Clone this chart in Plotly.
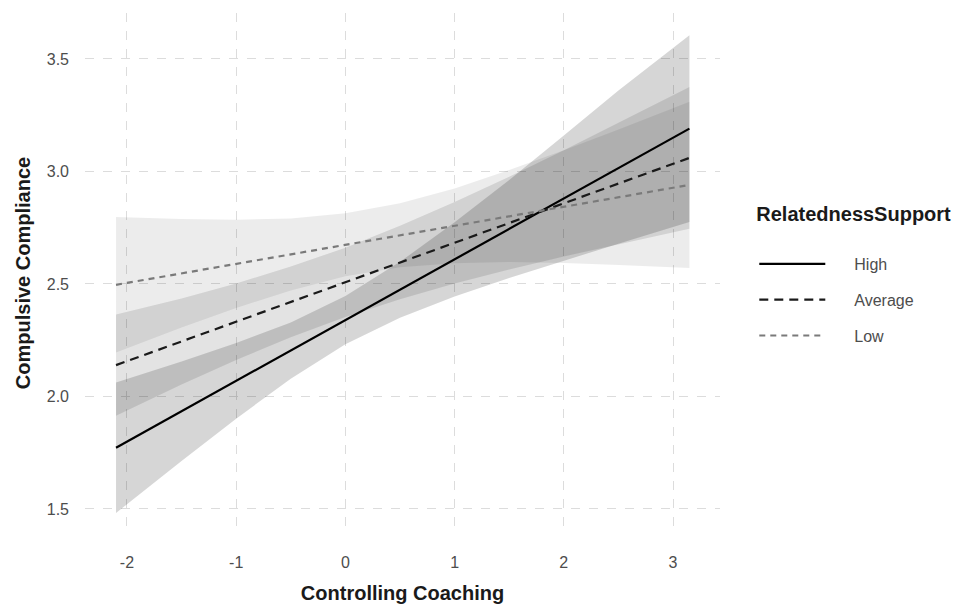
import plotly.graph_objects as go

# ---- data ----
x_grid = [-2.1, -1.5, -1.0, -0.5, 0.0, 0.5, 1.0, 1.5, 2.0, 2.5, 3.15]

high_fit = [1.772, 1.934, 2.069, 2.204, 2.339, 2.474, 2.609, 2.744, 2.879, 3.014, 3.190]
avg_fit = [2.139, 2.244, 2.332, 2.420, 2.507, 2.595, 2.683, 2.770, 2.858, 2.946, 3.060]
low_fit = [2.496, 2.547, 2.589, 2.631, 2.674, 2.716, 2.758, 2.801, 2.843, 2.885, 2.940]

high_lower = [1.482, 1.713, 1.901, 2.079, 2.232, 2.350, 2.444, 2.526, 2.604, 2.679, 2.775]
high_upper = [2.062, 2.155, 2.237, 2.329, 2.446, 2.598, 2.774, 2.962, 3.160, 3.360, 3.605]
avg_lower = [1.914, 2.053, 2.162, 2.263, 2.353, 2.432, 2.502, 2.564, 2.622, 2.677, 2.745]
avg_upper = [2.364, 2.435, 2.502, 2.577, 2.661, 2.758, 2.864, 2.976, 3.094, 3.215, 3.375]
low_lower = [2.195, 2.306, 2.393, 2.471, 2.534, 2.574, 2.592, 2.597, 2.593, 2.584, 2.571]
low_upper = [2.797, 2.788, 2.785, 2.791, 2.814, 2.858, 2.924, 3.006, 3.094, 3.186, 3.310]

groups = ["High", "Average", "Low"]
x_ticks = [-2, -1, 0, 1, 2, 3]
y_ticks = [1.5, 2.0, 2.5, 3.0, 3.5]
y_tick_text = ["1.5", "2.0", "2.5", "3.0", "3.5"]

# ---- styles ----
band_alpha = {"High": 0.16, "Average": 0.11, "Low": 0.075}
line_style = {
    "High": dict(color="#000000", width=2.2, dash="solid"),
    "Average": dict(color="#1a1a1a", width=2.2, dash="9px,6px"),
    "Low": dict(color="#7a7a7a", width=2.2, dash="6px,5px"),
}
fits = {"High": high_fit, "Average": avg_fit, "Low": low_fit}
bands = {"High": (high_lower, high_upper),
         "Average": (avg_lower, avg_upper),
         "Low": (low_lower, low_upper)}

LEGEND_PAD = "\u2002\u2002\u2002"  # visual gap between key line and label

fig = go.Figure()

for g in groups:
    lo, up = bands[g]
    fig.add_trace(go.Scatter(
        x=list(x_grid) + list(reversed(x_grid)),
        y=list(up) + list(reversed(lo)),
        fill="toself",
        fillcolor=f"rgba(0,0,0,{band_alpha[g]})",
        line=dict(width=0),
        mode="lines",
        hoverinfo="skip",
        showlegend=False,
    ))

for g in groups:
    fig.add_trace(go.Scatter(
        x=x_grid, y=fits[g], mode="lines", name=LEGEND_PAD + g,
        line=line_style[g], legendgroup=g,
    ))

font_family = "Liberation Sans, Arial, sans-serif"

fig.update_layout(
    width=969, height=604,
    margin=dict(l=85, r=249, t=13, b=71, autoexpand=False),
    paper_bgcolor="white", plot_bgcolor="white",
    font=dict(family=font_family, color="#4d4d4d"),
    showlegend=True,
    legend=dict(
        title=dict(text="<b>RelatednessSupport</b><br>\u00a0",
                   font=dict(size=20, color="#1a1a1a")),
        font=dict(size=16, color="#4d4d4d"),
        x=1.054, xanchor="left", y=0.65, yanchor="top",
        itemwidth=66, tracegroupgap=12,
        bgcolor="rgba(0,0,0,0)",
    ),
    xaxis=dict(
        range=[-2.384, 3.43],
        tickvals=x_ticks,
        ticktext=[str(v) for v in x_ticks],
        tickfont=dict(size=16, color="#4d4d4d"),
        showgrid=True, gridcolor="#dcdcdc", griddash="dash", gridwidth=1,
        zeroline=False, showline=False, ticks="",
        ticklabelstandoff=18, automargin=False,
        title=dict(text="<b>Controlling Coaching</b>",
                   font=dict(size=20, color="#1a1a1a"), standoff=20),
    ),
    yaxis=dict(
        range=[1.393, 3.704],
        tickvals=y_ticks,
        ticktext=y_tick_text,
        tickfont=dict(size=16, color="#4d4d4d"),
        showgrid=True, gridcolor="#dcdcdc", griddash="dash", gridwidth=1,
        zeroline=False, showline=False, ticks="",
        ticklabelstandoff=15, automargin=False,
        title=dict(text="<b>Compulsive Compliance</b>",
                   font=dict(size=20, color="#1a1a1a"), standoff=10),
    ),
)

fig.write_html(
    "out.html",
    config={"displayModeBar": False},
    post_script="document.body.style.margin='0';document.body.style.padding='0';",
)
